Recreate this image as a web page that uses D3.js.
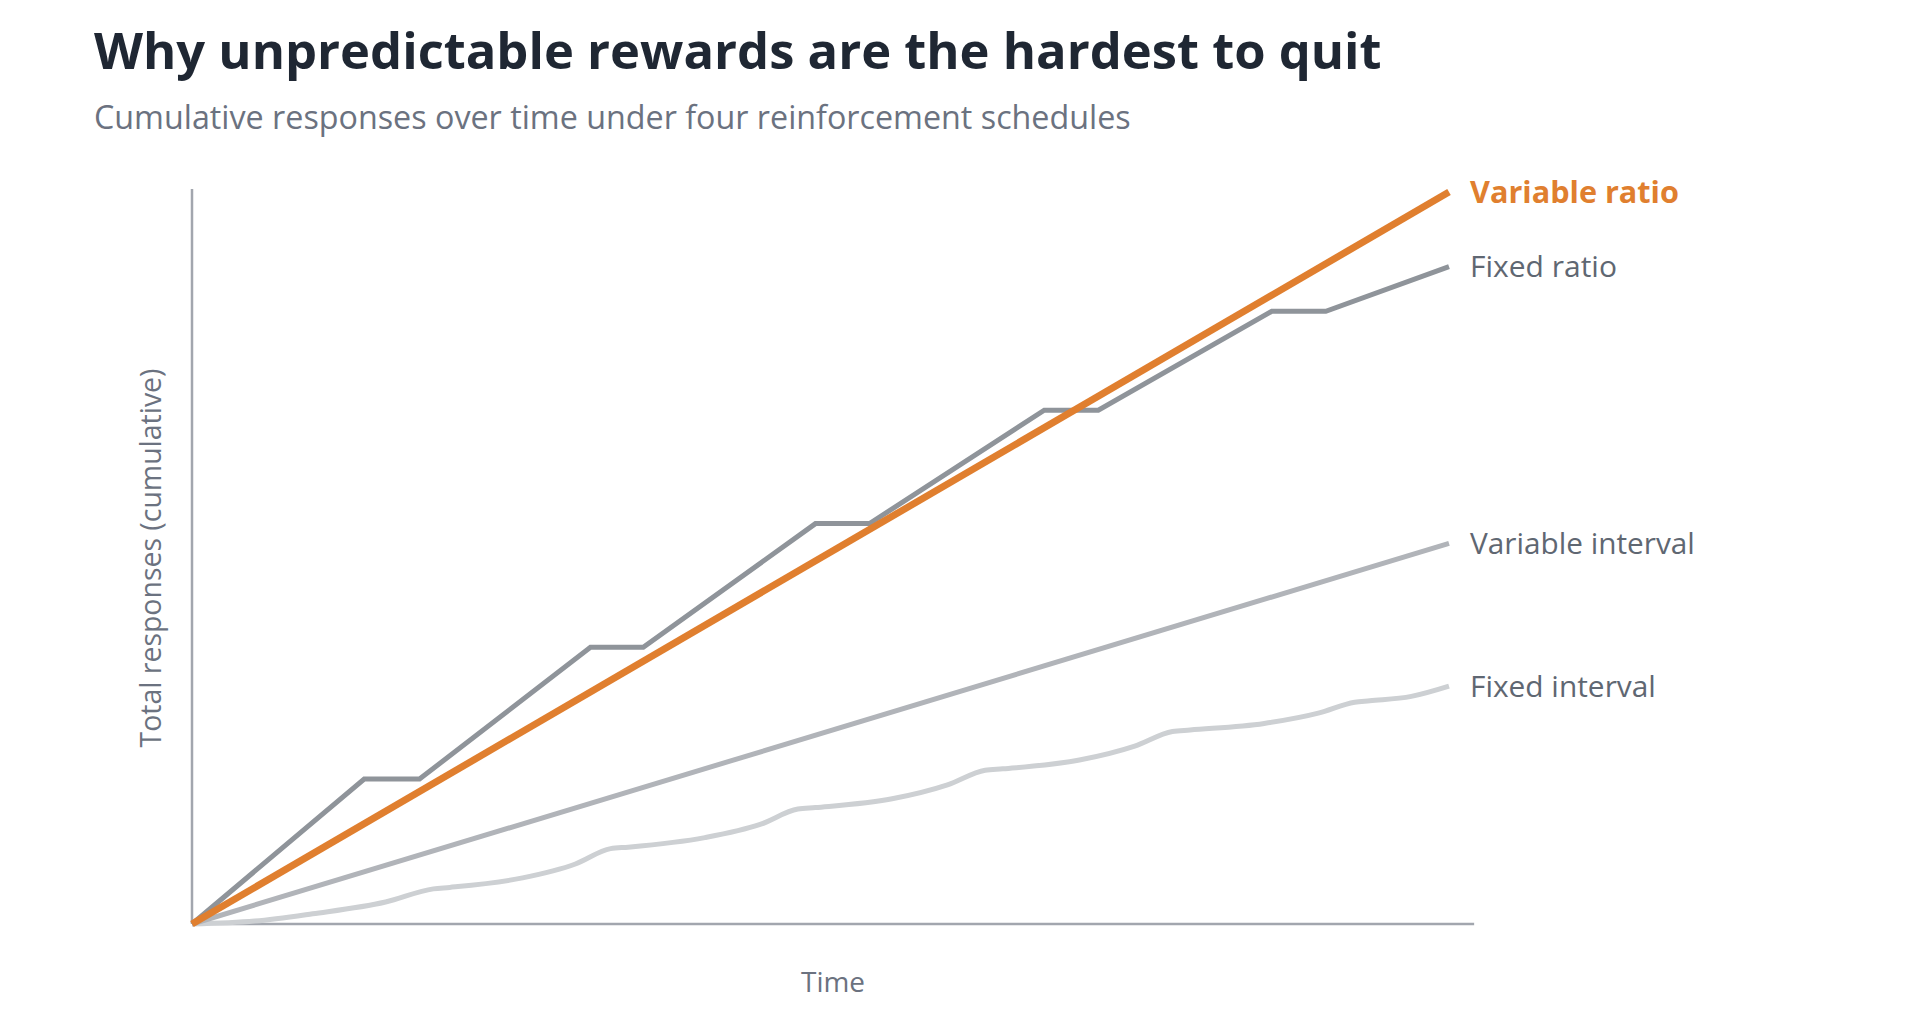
<!DOCTYPE html>
<html>
<head>
<meta charset="utf-8">
<script src="https://cdn.jsdelivr.net/npm/d3@7"></script>
<style>
  body { margin: 0; background: #fff; }
  text { font-family: "Open Sans", "Noto Sans", sans-serif; }
</style>
</head>
<body>
<svg></svg>
<script>
// DATA ////////////////////////////////////////////////////////////////////////
const seriesNames = ['Variable ratio', 'Fixed ratio', 'Variable interval', 'Fixed interval'];

// time (0-100) / cumulative responses (0-100)
const variableRatio = [[0, 0], [100, 100]];
const fixedRatio = [
  [0, 0], [13.7, 19.8], [18.1, 19.8], [31.7, 37.8], [35.9, 37.8],
  [49.6, 54.7], [53.9, 54.7], [67.8, 70.2], [72.1, 70.2],
  [85.9, 83.7], [90.2, 83.7], [100, 89.8]
];
const variableInterval = [[0, 0], [100, 52]];
const fixedInterval = [
  [0, 0], [5, 0.4], [9.6, 1.4], [15.4, 3.0], [19.2, 4.8],
  [20.5, 5.0], [26.3, 6.3], [30.5, 8.2], [33.3, 10.3],
  [34.7, 10.5], [40.8, 11.8], [45.2, 13.6], [48.2, 15.7],
  [49.6, 15.9], [55.7, 17.1], [60.1, 19.0], [63.1, 21.0],
  [64.5, 21.2], [70.6, 22.4], [75.0, 24.3], [78.0, 26.3],
  [79.4, 26.5], [85.3, 27.4], [89.6, 28.8], [92.5, 30.3],
  [93.7, 30.5], [97.0, 31.1], [100, 32.5]
];

// SET PARAMETERS //////////////////////////////////////////////////////////////
const svg = d3.select('svg').attr('width', 1913).attr('height', 1023);

const x = d3.scaleLinear().domain([0, 100]).range([192, 1449]);
const y = d3.scaleLinear().domain([0, 100]).range([924, 192]);

const series = [
  { name: seriesNames[3], data: fixedInterval, color: '#cdd0d3', width: 5, curve: d3.curveMonotoneX },
  { name: seriesNames[2], data: variableInterval, color: '#b1b4b9', width: 5, curve: d3.curveLinear },
  { name: seriesNames[1], data: fixedRatio, color: '#8f949a', width: 5, curve: d3.curveLinear },
  { name: seriesNames[0], data: variableRatio, color: '#e07f2f', width: 7, curve: d3.curveLinear, bold: true }
];

// fit a text element's font size so its width matches a target
function fit(sel, target) {
  const w = sel.node().getComputedTextLength();
  const fs = parseFloat(sel.attr('font-size'));
  sel.attr('font-size', fs * target / w);
  return sel;
}

// TITLES //////////////////////////////////////////////////////////////////////
fit(svg.append('text')
  .attr('x', 94).attr('y', 69)
  .attr('font-size', 50).attr('font-weight', 700)
  .attr('fill', '#1f2733')
  .text('Why unpredictable rewards are the hardest to quit'), 1288);

fit(svg.append('text')
  .attr('x', 94).attr('y', 129)
  .attr('font-size', 30)
  .attr('fill', '#6b7280')
  .text('Cumulative responses over time under four reinforcement schedules'), 1037);

// AXES ////////////////////////////////////////////////////////////////////////
const axisColor = '#a2a6ae';

svg.append('line')
  .attr('x1', x(0)).attr('x2', x(0))
  .attr('y1', y(0)).attr('y2', y(100.4))
  .attr('stroke', axisColor).attr('stroke-width', 2.5);

svg.append('line')
  .attr('x1', x(0)).attr('x2', x(102))
  .attr('y1', y(0)).attr('y2', y(0))
  .attr('stroke', axisColor).attr('stroke-width', 2.5);

fit(svg.append('text')
  .attr('x', (x(0) + x(102)) / 2).attr('y', 992)
  .attr('text-anchor', 'middle')
  .attr('font-size', 26).attr('fill', '#6b7280')
  .text('Time'), 64);

fit(svg.append('text')
  .attr('transform', `translate(161, ${(y(0) + y(100)) / 2}) rotate(-90)`)
  .attr('text-anchor', 'middle')
  .attr('font-size', 26).attr('fill', '#6b7280')
  .text('Total responses (cumulative)'), 379);

// LINES ///////////////////////////////////////////////////////////////////////
series.forEach(s => {
  const line = d3.line()
    .x(d => x(d[0]))
    .y(d => y(d[1]))
    .curve(s.curve);

  svg.append('path')
    .datum(s.data)
    .attr('d', line)
    .attr('fill', 'none')
    .attr('stroke', s.color)
    .attr('stroke-width', s.width)
    .attr('stroke-linejoin', 'miter')
    .attr('stroke-linecap', 'butt');
});

// end labels
const labelSizes = { 'Variable ratio': 209, 'Fixed ratio': 147, 'Variable interval': 225, 'Fixed interval': 186 };
series.forEach(s => {
  const last = s.data[s.data.length - 1];
  fit(svg.append('text')
    .attr('x', x(last[0]) + 21)
    .attr('y', y(last[1]))
    .attr('dy', '0.35em')
    .attr('font-size', 26)
    .attr('font-weight', s.bold ? 700 : 400)
    .attr('fill', s.bold ? s.color : '#5f6772')
    .text(s.name), labelSizes[s.name]);
});
</script>
</body>
</html>
